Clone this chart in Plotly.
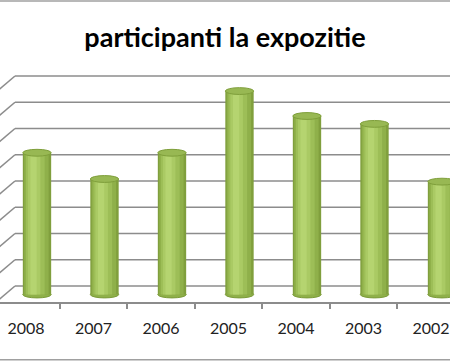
import plotly.graph_objects as go

categories = ["2008", "2007", "2006", "2005", "2004", "2003", "2002"]
values = [54, 44, 54, 77.5, 68, 65, 43]
grid_values = [0, 10, 20, 30, 40, 50, 60, 70, 80]
title_text = "participanti la expozitie"

# 3D-look parameters (styling)
DEPTH_Y = 6.48      # floor depth in value units
DEPTH_X = 0.296     # floor depth in category units
WALL_X = -0.163     # left edge of back wall
BAR_W = 0.42
BAR_SHIFT = 0.163
ELL_H = 1.3

n = len(categories)
fig = go.Figure()

base = -DEPTH_Y / 2
layers = [
    (1.00, 0.0, "#809f3d"),
    (0.86, -0.01, "#8fb04a"),
    (0.66, -0.03, "#9dbe57"),
    (0.44, -0.05, "#aaca64"),
    (0.22, -0.06, "#b5d470"),
]
for frac, sh, col in layers:
    w = BAR_W * frac
    fig.add_trace(go.Bar(
        x=categories, y=values, base=base,
        width=w, offset=BAR_SHIFT + sh * BAR_W * 2 - w / 2,
        marker=dict(color=col, line=dict(width=0)),
        hoverinfo="skip", showlegend=False,
    ))

shapes = []
# back wall gridlines
for g in grid_values:
    shapes.append(dict(type="line", xref="x", yref="y", x0=WALL_X, x1=n + 1,
                       y0=g, y1=g, line=dict(color="#8c8c8c", width=1.6), layer="below"))
    shapes.append(dict(type="line", xref="x", yref="y", x0=WALL_X, x1=WALL_X - DEPTH_X,
                       y0=g, y1=g - DEPTH_Y, line=dict(color="#8c8c8c", width=1.6), layer="below"))
# bottom and top ellipses of cylinders
for i, v in enumerate(values):
    cx = i + BAR_SHIFT
    shapes.append(dict(type="circle", xref="x", yref="y",
                       x0=cx - BAR_W / 2, x1=cx + BAR_W / 2,
                       y0=base - ELL_H, y1=base + ELL_H,
                       fillcolor="#8fb04a", line=dict(color="#7a9a38", width=1), layer="below"))
    top = base + v
    shapes.append(dict(type="circle", xref="x", yref="y",
                       x0=cx - BAR_W / 2, x1=cx + BAR_W / 2,
                       y0=top - ELL_H, y1=top + ELL_H,
                       fillcolor="#98b853", line=dict(color="#7f9f3b", width=1), layer="above"))
# chart border (cropped)
shapes.append(dict(type="line", xref="paper", yref="paper", x0=0, x1=1, y0=0.997, y1=0.997,
                   line=dict(color="#a0a0a0", width=1.5)))
shapes.append(dict(type="line", xref="paper", yref="paper", x0=0, x1=1, y0=0.006, y1=0.006,
                   line=dict(color="#a0a0a0", width=1.5)))

fig.update_layout(
    width=450, height=362,
    margin=dict(l=0, r=0, t=0, b=0),
    paper_bgcolor="white", plot_bgcolor="white",
    barmode="overlay",
    shapes=shapes,
    title=dict(text=title_text, x=0.5, xanchor="center", y=0.897, yanchor="middle",
               font=dict(family="Lato", size=27, color="#000000", weight=700)),
    xaxis=dict(
        type="category", range=[-0.385, 6.2815],
        showgrid=False, zeroline=False,
        showline=True, linecolor="#8c8c8c", linewidth=1.6,
        ticks="outside", tickson="boundaries", ticklen=5, tickcolor="#8c8c8c", tickwidth=1.5,
        tickfont=dict(family="Lato", size=16, color="#222222"),
        ticklabelstandoff=11,
        anchor="free", position=(362 - 303) / 362,
        fixedrange=True,
    ),
    yaxis=dict(
        range=[-28.95, 108.95], showgrid=False, zeroline=False,
        showticklabels=False, showline=False, fixedrange=True,
    ),
)

fig.write_html(
    "out.html",
    config={"displayModeBar": False},
    post_script="document.body.style.margin='0';document.body.style.overflow='hidden';",
)
